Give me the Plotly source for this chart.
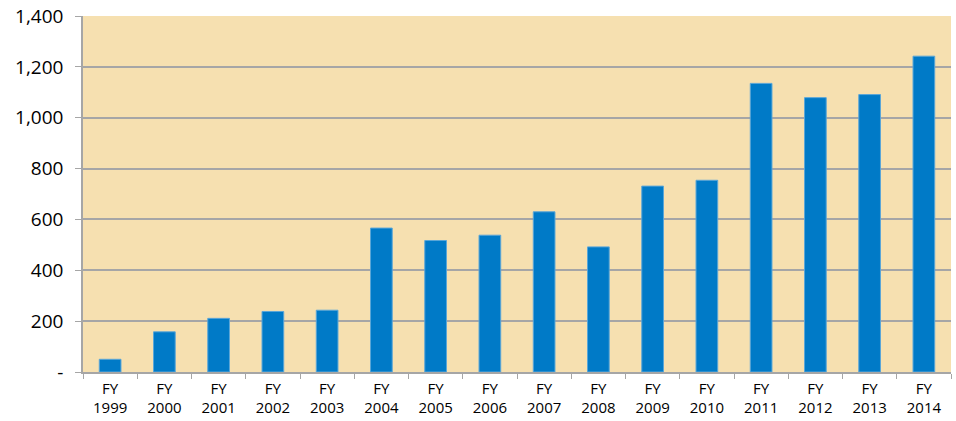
import plotly.graph_objects as go

categories = ["FY<br>1999", "FY<br>2000", "FY<br>2001", "FY<br>2002", "FY<br>2003", "FY<br>2004",
              "FY<br>2005", "FY<br>2006", "FY<br>2007", "FY<br>2008", "FY<br>2009", "FY<br>2010",
              "FY<br>2011", "FY<br>2012", "FY<br>2013", "FY<br>2014"]
values = [50, 158, 211, 238, 243, 566, 517, 538, 630, 492, 731, 754, 1135, 1079, 1091, 1242]
y_tickvals = [0, 200, 400, 600, 800, 1000, 1200, 1400]
y_ticktext = ["-", "200", "400", "600", "800", "1,000", "1,200", "1,400"]

fig = go.Figure(go.Bar(
    x=categories, y=values,
    marker=dict(color="#007AC7", line=dict(color="#5AA6D8", width=1)),
    width=0.4,
))

fig.update_layout(
    width=956, height=421,
    margin=dict(l=83, r=5, t=16, b=49),
    paper_bgcolor="white",
    plot_bgcolor="#F6E0B0",
    showlegend=False,
    font=dict(family="Open Sans, Liberation Sans, sans-serif", color="#000000"),
    bargap=0.6,
)
fig.update_xaxes(
    type="category",
    automargin=False,
    tickson="boundaries",
    ticks="outside", ticklen=5, tickcolor="#A6A6A6",
    showline=True, linecolor="#A6A6A6", linewidth=1.5,
    showgrid=False,
    tickfont=dict(size=15),
    ticklabelstandoff=2,
)
fig.update_yaxes(
    automargin=False,
    range=[0, 1400],
    tickvals=y_tickvals, ticktext=y_ticktext,
    ticks="outside", ticklen=6, tickcolor="#A6A6A6",
    showline=True, linecolor="#A6A6A6", linewidth=1.5,
    showgrid=True, gridcolor="#A6A6A6", gridwidth=1.5,
    zeroline=False,
    tickfont=dict(size=19),
    ticklabelstandoff=8,
)

fig.write_html("out.html", config={"displayModeBar": False},
               post_script="document.body.style.margin='0';document.body.style.overflow='hidden';")
